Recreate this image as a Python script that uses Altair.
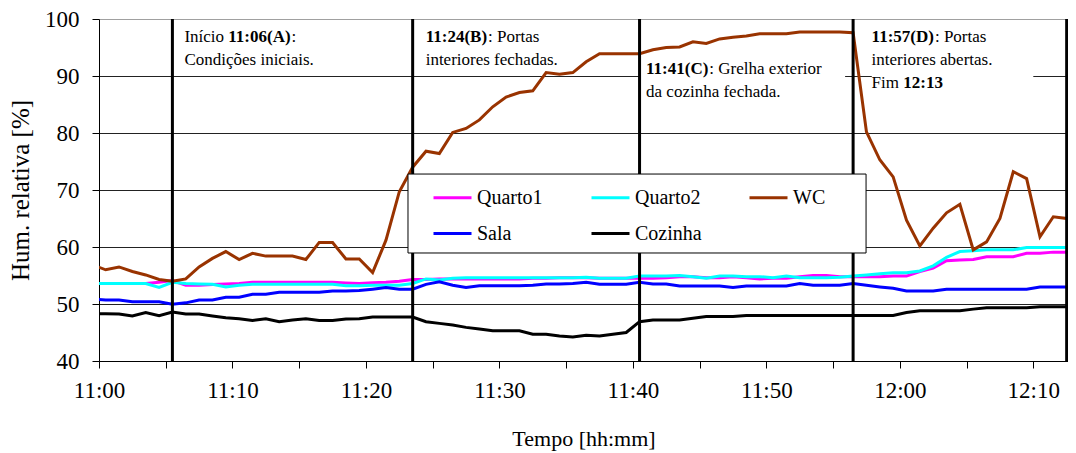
import altair as alt
import pandas as pd

# sample positions (minutes after 11:00, samples every minute at half-minute marks)
minutes = [k + 0.5 for k in range(-1, 74)]

quarto1 = [53.6, 53.6, 53.6, 53.6, 53.6, 53.8, 54.1, 53.3, 53.3, 53.4,
           53.5, 53.6, 53.8, 53.8, 53.8, 53.8, 53.8, 53.8, 53.8, 53.7,
           53.6, 53.75, 53.8, 54.0, 54.3, 54.3, 54.4, 54.4, 54.4, 54.4,
           54.4, 54.4, 54.4, 54.5, 54.5, 54.6, 54.6, 54.6, 54.5, 54.5,
           54.5, 54.5, 54.5, 54.6, 54.8, 54.8, 54.6, 54.6, 54.8, 54.6,
           54.4, 54.5, 54.5, 54.8, 55.0, 55.0, 54.8, 54.8, 54.8, 54.8,
           54.9, 54.9, 55.7, 56.3, 57.6, 57.7, 57.8, 58.3, 58.3, 58.3,
           58.9, 58.9, 59.1, 59.1, 59.1]
quarto2 = [53.6, 53.6, 53.6, 53.6, 53.6, 52.9, 53.8, 53.6, 53.5, 53.45,
           53.0, 53.3, 53.45, 53.45, 53.45, 53.45, 53.45, 53.45, 53.45, 53.2,
           53.2, 53.3, 53.3, 53.3, 53.6, 54.4, 54.2, 54.5, 54.6, 54.6,
           54.6, 54.6, 54.6, 54.6, 54.6, 54.6, 54.6, 54.7, 54.5, 54.5,
           54.5, 54.9, 54.9, 54.9, 55.0, 54.8, 54.5, 54.9, 54.9, 54.8,
           54.8, 54.6, 54.9, 54.6, 54.6, 54.6, 54.7, 54.9, 55.1, 55.3,
           55.5, 55.5, 55.8, 56.7, 58.2, 59.2, 59.35, 59.5, 59.5, 59.5,
           59.9, 59.9, 59.9, 59.9, 59.9]
wc = [56.9, 56.0, 56.5, 55.7, 55.1, 54.3, 54.0, 54.4, 56.5, 58.0,
      59.2, 57.8, 58.9, 58.4, 58.4, 58.4, 57.8, 60.8, 60.8, 57.9,
      57.9, 55.5, 61.2, 69.7, 74.0, 76.8, 76.4, 80.1, 80.8, 82.3,
      84.6, 86.3, 87.1, 87.4, 90.6, 90.3, 90.6, 92.5, 93.9, 93.9,
      93.9, 93.9, 94.6, 95.0, 95.1, 96.0, 95.7, 96.5, 96.8, 97.0,
      97.4, 97.4, 97.4, 97.7, 97.7, 97.7, 97.7, 97.6, 80.2, 75.3,
      72.3, 64.7, 60.2, 63.3, 66.0, 67.5, 59.5, 60.9, 65.0, 73.2,
      72.0, 61.8, 65.3, 65.0, 62.0]
sala = [50.9, 50.7, 50.7, 50.4, 50.4, 50.4, 49.95, 50.2, 50.7, 50.7,
        51.2, 51.2, 51.7, 51.7, 52.05, 52.05, 52.05, 52.05, 52.3, 52.3,
        52.35, 52.6, 52.9, 52.6, 52.6, 53.45, 53.9, 53.3, 52.9, 53.2,
        53.2, 53.2, 53.2, 53.3, 53.5, 53.5, 53.6, 53.8, 53.45, 53.45,
        53.45, 53.8, 53.5, 53.5, 53.15, 53.15, 53.15, 53.15, 52.9, 53.15,
        53.15, 53.15, 53.15, 53.6, 53.3, 53.3, 53.3, 53.6, 53.3, 53.0,
        52.75, 52.3, 52.3, 52.3, 52.6, 52.6, 52.6, 52.6, 52.6, 52.6,
        52.6, 53.0, 53.0, 53.0, 52.75]
cozinha = [48.3, 48.3, 48.25, 47.9, 48.5, 47.95, 48.6, 48.25, 48.25, 47.9,
           47.6, 47.4, 47.1, 47.4, 46.9, 47.2, 47.4, 47.1, 47.1, 47.35,
           47.4, 47.7, 47.7, 47.7, 47.7, 46.9, 46.6, 46.3, 45.9, 45.6,
           45.3, 45.3, 45.3, 44.7, 44.7, 44.4, 44.2, 44.5, 44.4, 44.7,
           45.0, 46.9, 47.2, 47.2, 47.2, 47.5, 47.8, 47.8, 47.8, 48.0,
           48.0, 48.0, 48.0, 48.0, 48.0, 48.0, 48.0, 48.0, 48.0, 48.0,
           48.0, 48.5, 48.8, 48.8, 48.8, 48.8, 49.1, 49.35, 49.35, 49.35,
           49.35, 49.5, 49.5, 49.5, 49.5]

series_names = ["Quarto1", "Quarto2", "WC", "Sala", "Cozinha"]
series_colors = ["#FF00FF", "#00FFFF", "#993300", "#0000FF", "#000000"]
series_values = [quarto1, quarto2, wc, sala, cozinha]

# event times (minutes after 11:00, drawn half a minute before the label)
event_minutes = [5.5, 23.5, 40.5, 56.5, 72.5]

# annotation text segments: event minute, pixel offset, line value, text, weight
ann_x = [5.5, 5.5, 5.5, 5.5,
         23.5, 23.5, 23.5,
         40.5, 40.5, 40.5,
         56.5, 56.5, 56.5, 56.5, 56.5]
ann_dx = [12, 55.9, 119.2, 12,
          13, 75.3, 13,
          6.5, 69.8, 6.5,
          18.5, 81.8, 18.5, 18.5, 50.2]
ann_y = [96.0, 96.0, 96.0, 91.9,
         96.0, 96.0, 91.9,
         90.35, 90.35, 86.3,
         96.0, 96.0, 91.9, 87.9, 87.9]
ann_text = ["Início ", "11:06(A)", ":", "Condições iniciais.",
            "11:24(B)", ": Portas", "interiores fechadas.",
            "11:41(C)", ": Grelha exterior", "da cozinha fechada.",
            "11:57(D)", ": Portas", "interiores abertas.", "Fim ", "12:13"]
ann_bold = [False, True, False, False,
            True, False, False,
            True, False, False,
            True, False, False, False, True]

# white text boxes that hide the grid behind two annotations
box_x = [40.5, 57.9]
box_x2 = [55.9, 70.0]
box_y = [85.0, 84.5]
box_y2 = [93.2, 99.5]

# frame of the legend (in data units: minutes / %)
legend_box = {"x": 23.15, "x2": 57.47, "y": 58.95, "y2": 72.8}

FONT = "Liberation Serif"
X_MAX = 72.6
PLOT_W = 969
PLOT_H = 342
PX_PER_MIN = PLOT_W / X_MAX

rows = []
for name, vals in zip(series_names, series_values):
    for m, v in zip(minutes, vals):
        rows.append({"t": m, "hr": v, "serie": name})
df = pd.DataFrame(rows)

ann_df = pd.DataFrame({"x": [x + d / PX_PER_MIN for x, d in zip(ann_x, ann_dx)],
                       "y": ann_y, "text": ann_text,
                       "w": ["bold" if b else "normal" for b in ann_bold]})
box_df = pd.DataFrame({"x": box_x, "x2": box_x2, "y": box_y, "y2": box_y2})
ev_df = pd.DataFrame({"x": event_minutes})
leg_df = pd.DataFrame([legend_box])

xscale = alt.Scale(domain=[0, X_MAX], nice=False, zero=False)
yscale = alt.Scale(domain=[40, 100], nice=False, zero=False)

label_expr = ("datum.value % 10 == 0 ? (floor(datum.value / 60) + 11) + ':' + "
              "(datum.value % 60 < 10 ? '0' : '') + (datum.value % 60) : ''")

x_axis = alt.Axis(values=list(range(0, 75, 5)), labelExpr=label_expr,
                  title="Tempo [hh:mm]", grid=False, tickSize=7, tickColor="black",
                  domainColor="black", labelFont=FONT, labelFontSize=23,
                  labelColor="black", titleFont=FONT, titleFontSize=22,
                  titleFontWeight="normal", titleColor="black", labelPadding=11,
                  titlePadding=26, labelFlush=False)
y_axis = alt.Axis(values=[40, 50, 60, 70, 80, 90, 100], title="Hum. relativa [%]",
                  grid=True,
                  gridColor={"condition": {"test": "datum.value == 100", "value": "#a0a0a0"},
                             "value": "#222222"},
                  gridWidth=1, tickSize=7, tickColor="black", domainColor="black",
                  labelFont=FONT, labelFontSize=23, labelColor="black", labelPadding=13,
                  titleFont=FONT, titleFontSize=25, titleFontWeight="normal",
                  titleColor="black", titlePadding=11)

boxes = alt.Chart(box_df).mark_rect(color="white").encode(
    x=alt.X("x:Q", scale=xscale, axis=x_axis),
    x2="x2:Q",
    y=alt.Y("y:Q", scale=yscale, axis=y_axis),
    y2="y2:Q",
)

lines = alt.Chart(df).mark_line(strokeWidth=3, clip=True).encode(
    x=alt.X("t:Q", scale=xscale),
    y=alt.Y("hr:Q", scale=yscale),
    color=alt.Color("serie:N",
                    scale=alt.Scale(domain=series_names, range=series_colors),
                    legend=alt.Legend(orient="none", legendX=309, legendY=154,
                                      direction="horizontal", columns=3,
                                      gridAlign="all",
                                      symbolType="stroke", symbolSize=1444,
                                      symbolStrokeWidth=3, symbolOffset=20,
                                      labelFont=FONT, labelFontSize=20,
                                      labelColor="black", labelOffset=4,
                                      padding=4, rowPadding=5, columnPadding=26,
                                      title=None)),
    order="order:Q",
).transform_calculate(
    order="indexof(['Quarto1','Quarto2','WC','Sala','Cozinha'], datum.serie)"
)

rules = alt.Chart(ev_df).mark_rule(color="black", strokeWidth=3).encode(
    x=alt.X("x:Q", scale=xscale)
)

legend_frame = alt.Chart(leg_df).mark_rect(
    fill="white", stroke="black", strokeWidth=1
).encode(x=alt.X("x:Q", scale=xscale), x2="x2:Q",
         y=alt.Y("y:Q", scale=yscale), y2="y2:Q")

texts_normal = alt.Chart(ann_df).transform_filter("datum.w == 'normal'").mark_text(
    align="left", baseline="alphabetic", font=FONT, fontSize=17, color="black"
).encode(x=alt.X("x:Q", scale=xscale), y=alt.Y("y:Q", scale=yscale), text="text:N")

texts_bold = alt.Chart(ann_df).transform_filter("datum.w == 'bold'").mark_text(
    align="left", baseline="alphabetic", font=FONT, fontSize=17, color="black",
    fontWeight="bold"
).encode(x=alt.X("x:Q", scale=xscale), y=alt.Y("y:Q", scale=yscale), text="text:N")

chart = alt.layer(boxes, lines, rules, legend_frame, texts_normal, texts_bold).properties(
    width=PLOT_W, height=PLOT_H,
    autosize=alt.AutoSizeParams(type="none"),
    padding={"left": 91, "top": 11, "right": 0, "bottom": 94},
).configure_view(stroke="#a0a0a0", strokeWidth=1).configure(background="white")

chart.save("out.html", embed_options={"renderer": "svg", "actions": False})
